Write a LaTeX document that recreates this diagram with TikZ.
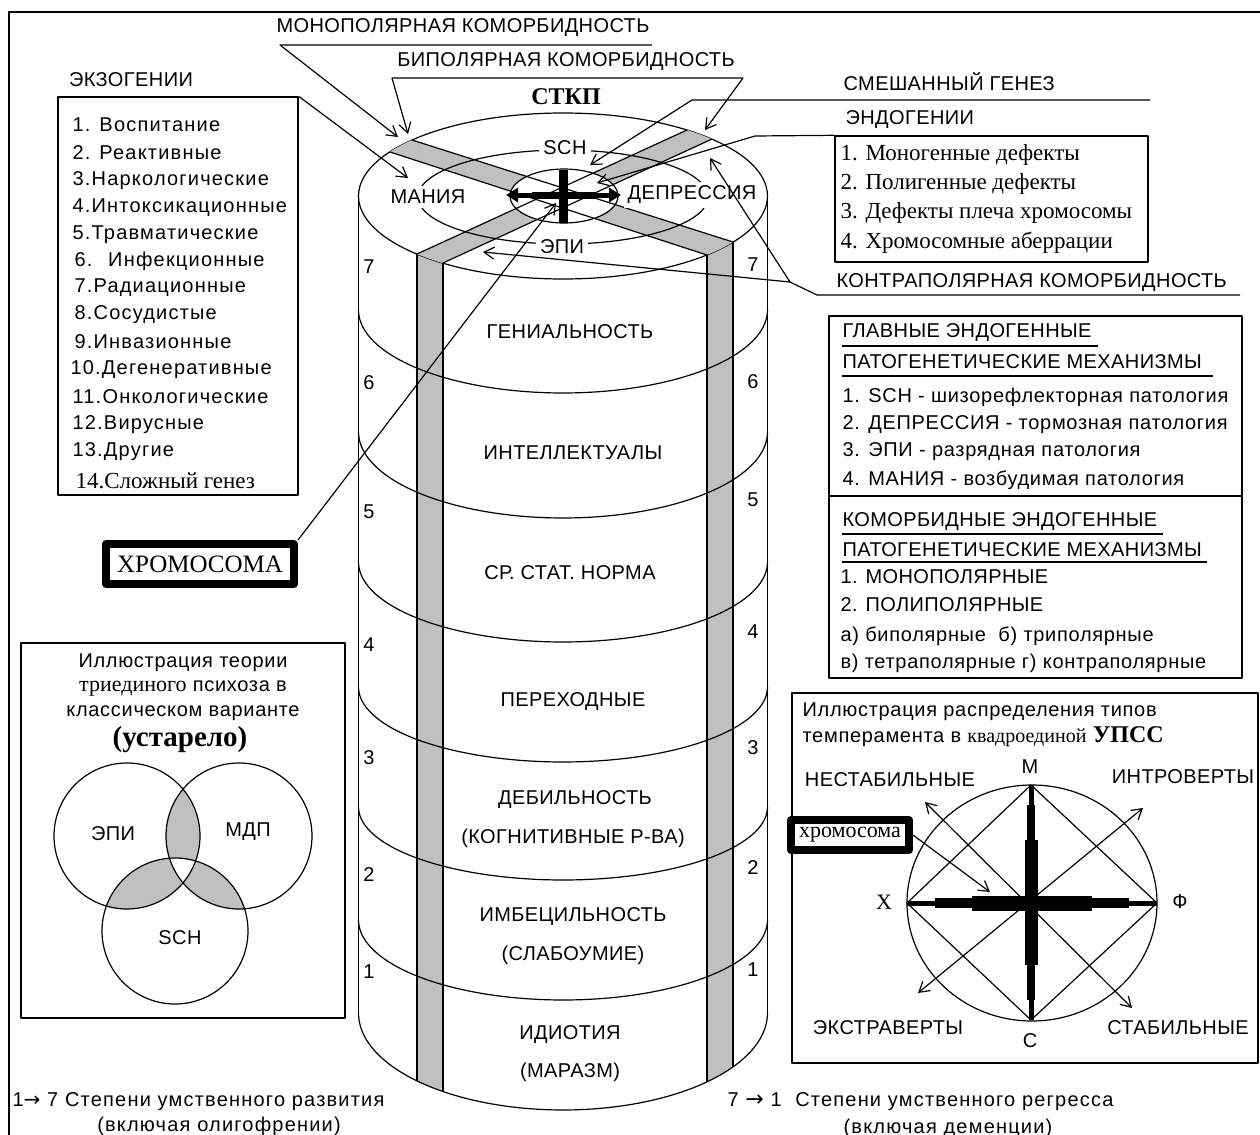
\documentclass[tikz,border=0pt]{standalone}
\usepackage{fontspec}
\setmainfont[LetterSpace=2]{Liberation Sans}
\newfontfamily\wsans[LetterSpace=6]{Liberation Sans}
\newfontfamily\msans[LetterSpace=3.5]{Liberation Sans}
\newfontfamily\serf{Liberation Serif}
\newfontfamily\djv{DejaVu Sans}
\usetikzlibrary{arrows.meta,calc}
\definecolor{bandgrey}{RGB}{192,192,192}
\tikzset{
  txt/.style={inner sep=1pt, font=\fontsize{10}{12}\selectfont},
  ltxt/.style={txt, anchor=west},
  wtxt/.style={inner sep=1pt, font=\fontsize{10}{12}\wsans},
  lwtxt/.style={wtxt, anchor=west},
  mtxt/.style={inner sep=1pt, font=\fontsize{10}{12}\msans},
  lmtxt/.style={mtxt, anchor=west},
  stxt/.style={inner sep=1pt, anchor=west, font=\fontsize{11.5}{13}\serf},
  arr/.style={-{Straight Barb[length=5pt,width=6pt]}},
  dbl/.style={{Straight Barb[length=5pt,width=6pt]}-{Straight Barb[length=5pt,width=6pt]}},
  box/.style={draw, line width=0.7pt, inner sep=0pt},
  thickbox/.style={draw, line width=4pt, inner sep=0pt},
  ringlbl/.style={txt, fill=white, inner sep=2pt},
}
\begin{document}
\begin{tikzpicture}[x=0.5pt,y=-0.5pt, line width=0.6pt, line join=round]
\useasboundingbox (0,0) rectangle (1260,1135);
% outer frame
\draw[line width=1pt] (9,1140) -- (9,12) -- (1265,12);

% ---------- cylinder ----------
\begin{scope}
\clip (358.5,196) -- plot[domain=180:0,samples=80,variable=\t] ({563+204.5*cos(\t)},{1013+97*sin(\t)})
      -- plot[domain=0:180,samples=80,variable=\t] ({563+204.5*cos(\t)},{196+83*sin(\t)}) -- cycle;
\fill[bandgrey] (417,100) rectangle (443,1150);
\fill[bandgrey] (707,100) rectangle (733,1150);
\draw (417,100) -- (417,1150) (443,100) -- (443,1150) (707,100) -- (707,1150) (733,100) -- (733,1150);
\end{scope}
\draw (358.5,196) -- (358.5,1013);
\draw (767.5,196) -- (767.5,1013);
\foreach \ys/\ry in {310/83, 432/86, 562/80, 687/75, 807/73, 920/80, 1013/97}
  {\draw plot[domain=180:0,samples=80,variable=\t] ({563+204.5*cos(\t)},{\ys+\ry*sin(\t)});}
\draw (563,196) ellipse [x radius=204.5, y radius=83];

% bands on top
\begin{scope}
\clip (563,196) ellipse [x radius=204.5, y radius=83];
\fill[bandgrey] (390,266.4) -- (714,117.6) -- (738.9,126.6) -- (416.1,275.4) -- cycle;
\fill[bandgrey] (738.7,265.3) -- (358.3,141.7) -- (379.9,129.8) -- (765.1,252.2) -- cycle;
\fill[white] (564,196) ellipse [x radius=54, y radius=27];
\draw (390,266.4) -- (714,117.6) (416.1,275.4) -- (738.9,126.6);
\draw (738.7,265.3) -- (358.3,141.7) (765.1,252.2) -- (379.9,129.8);
\end{scope}
\draw (563,197) ellipse [x radius=145, y radius=47];
\draw (564,196) ellipse [x radius=54, y radius=27];
\node[ringlbl] (sch) at (565,148) {SCH};
\node[ringlbl] (mania) at (428,197) {МАНИЯ};
\node[ringlbl] (depr) at (692,195) {ДЕПРЕССИЯ};
\node[ringlbl] (epi) at (562,247) {ЭПИ};
% cross
\draw[line width=4.5pt] (563,170) -- (563,223);
\draw[line width=2.5pt, {Triangle[length=6pt,width=7pt]}-{Triangle[length=6pt,width=7pt]}] (506,195) -- (621,195);
\draw[line width=3.5pt] (532,195) -- (596,195);

% layer labels
\node[txt] (l7) at (570,332) {ГЕНИАЛЬНОСТЬ};
\node[txt] (l6) at (573,453) {ИНТЕЛЛЕКТУАЛЫ};
\node[txt] (l5) at (570,573) {СР. СТАТ. НОРМА};
\node[txt] (l4) at (573,702) {ПЕРЕХОДНЫЕ};
\node[txt] (l3a) at (575,800) {ДЕБИЛЬНОСТЬ};
\node[txt] (l3b) at (573,838) {(КОГНИТИВНЫЕ Р-ВА)};
\node[txt] (l2a) at (573,917) {ИМБЕЦИЛЬНОСТЬ};
\node[txt] (l2b) at (573,955) {(СЛАБОУМИЕ)};
\node[txt] (l1a) at (570,1035) {ИДИОТИЯ};
\node[txt] (l1b) at (570,1072) {(МАРАЗМ)};
% numbers
\foreach \n/\yl/\yr in {7/267/265, 6/383/382, 5/512/500, 4/645/632, 3/758/748, 2/875/868, 1/972/970}
  {\node[txt] (nl\n) at (369,\yl) {\n};
   \node[txt] (nr\n) at (753,\yr) {\n};}

% ---------- top labels and leaders ----------
\node[font=\fontsize{12}{14}\selectfont\serf\bfseries, inner sep=1pt] (stkp) at (566,97) {СТКП};
\node[txt] (mono) at (463,28) {МОНОПОЛЯРНАЯ КОМОРБИДНОСТЬ};
\coordinate (monoL) at (280,45); \coordinate (monoR) at (652,45); \coordinate (monoT) at (398,137);
\draw[arr] (monoR) -- (monoL) -- (monoT);
\node[txt] (bi) at (566,62) {БИПОЛЯРНАЯ КОМОРБИДНОСТЬ};
\coordinate (biL) at (392,78); \coordinate (biR) at (743,78);
\coordinate (biTL) at (408,134); \coordinate (biTR) at (705,130);
\draw[arr] (biR) -- (biL) -- (biTL);
\draw[arr] (biR) -- (biTR);

\node[txt] (exoLbl) at (131,80) {ЭКЗОГЕНИИ};
\node[box, minimum width=120pt, minimum height=199pt] (exoBox) at (178,296) {};
\coordinate (exoT) at (408,178);
\draw[arr] (exoBox.north east) -- (exoT);
\node[lwtxt] (e1) at (70,125) {1. Воспитание};
\node[lwtxt] (e2) at (70,153) {2. Реактивные};
\node[lwtxt] (e3) at (70,181) {3.Наркологические};
\node[lwtxt] (e4) at (70,208) {4.Интоксикационные};
\node[lwtxt] (e5) at (70,235) {5.Травматические};
\node[lwtxt] (e6) at (72,261) {6. \ Инфекционные};
\node[lwtxt] (e7) at (72,288) {7.Радиационные};
\node[lwtxt] (e8) at (72,315) {8.Сосудистые};
\node[lwtxt] (e9) at (72,342) {9.Инвазионные};
\node[lwtxt] (e10) at (68,370) {10.Дегенеративные};
\node[lwtxt] (e11) at (70,397) {11.Онкологические};
\node[lwtxt] (e12) at (70,425) {12.Вирусные};
\node[lwtxt] (e13) at (70,452) {13.Другие};
\node[stxt] (e14) at (73,481) {14.Сложный генез};

\node[thickbox, minimum width=94pt, minimum height=20pt, font=\fontsize{12.5}{14}\selectfont\serf] (xrom) at (200,564) {ХРОМОСОМА};
\coordinate (xromT) at (556,203);
\draw[arr] (xrom.north east) -- (xromT);

\node[ltxt] (mix) at (841,82) {СМЕШАННЫЙ ГЕНЕЗ};
\coordinate (mixR) at (1150,100); \coordinate (mixL) at (692,100); \coordinate (mixT) at (590,165);
\draw[arr] (mixR) -- (mixL) -- (mixT);

\node[ltxt] (endoLbl) at (843,120) {ЭНДОГЕНИИ};
\node[box, minimum width=156.5pt, minimum height=63pt] (endoBox) at (991.5,199) {};
\coordinate (endoK) at (755,136); \coordinate (endoT) at (597,183);
\draw[arr] (endoBox.north west) -- (endoK) -- (endoT);
\node[stxt] (d1) at (838,155) {1. Моногенные дефекты};
\node[stxt] (d2) at (838,184) {2. Полигенные дефекты};
\node[stxt] (d3) at (838,213) {3. Дефекты плеча хромосомы};
\node[stxt] (d4) at (838,243) {4. Хромосомные аберрации};

\node[ltxt] (contra) at (834,283) {КОНТРАПОЛЯРНАЯ КОМОРБИДНОСТЬ};
\coordinate (contraR) at (1240,295); \coordinate (contraL) at (817,295); \coordinate (contraK) at (790,282);
\coordinate (contraT1) at (710,158); \coordinate (contraT2) at (483,252);
\draw (contraR) -- (contraL) -- (contraK);
\draw[arr] (contraK) -- (contraT1);
\draw[arr] (contraK) -- (contraT2);

% ---------- main mechanisms box ----------
\node[box, minimum width=206.5pt, minimum height=181pt] (mainBox) at (1035.5,497) {};
\draw (829,496) -- (1242,496);
\node[ltxt] (g1) at (840,333) {ГЛАВНЫЕ ЭНДОГЕННЫЕ};
\node[ltxt] (g2) at (840,362) {ПАТОГЕНЕТИЧЕСКИЕ МЕХАНИЗМЫ};
\draw (842,346) -- (1098,346);
\draw (842,376) -- (1213,376);
\node[lmtxt] (g3) at (840,397) {1. SCH - шизорефлекторная патология};
\node[lmtxt] (g4) at (840,425) {2. ДЕПРЕССИЯ - тормозная патология};
\node[lmtxt] (g5) at (840,452) {3. ЭПИ - разрядная патология};
\node[lmtxt] (g6) at (840,480) {4. МАНИЯ - возбудимая патология};
\node[ltxt] (k1) at (840,522) {КОМОРБИДНЫЕ ЭНДОГЕННЫЕ};
\node[ltxt] (k2) at (840,550) {ПАТОГЕНЕТИЧЕСКИЕ МЕХАНИЗМЫ};
\draw (842,534) -- (1163,534);
\draw (842,562) -- (1207,562);
\node[ltxt] (k3) at (838,577) {1. МОНОПОЛЯРНЫЕ};
\node[ltxt] (k4) at (838,605) {2. ПОЛИПОЛЯРНЫЕ};
\node[lmtxt] (k5) at (838,636) {а) биполярные \ б) триполярные};
\node[lmtxt] (k6) at (838,663) {в) тетраполярные г) контраполярные};

% ---------- temperament box ----------
\node[box, minimum width=233pt, minimum height=185pt] (tempBox) at (1025,878) {};
\node[lmtxt] (tt1) at (800,712) {Иллюстрация распределения типов};
\node[lmtxt] (tt2) at (800,737) {темперамента в {\serf квадроединой} {\serf\bfseries\fontsize{12}{14}\selectfont УПСС}};
\draw (1032,903) ellipse [x radius=125, y radius=118];
\coordinate (M) at (1031,785); \coordinate (C) at (1031,1020);
\coordinate (X) at (907,903); \coordinate (F) at (1157,903);
\draw (M) -- (F) -- (C) -- (X) -- cycle;
\coordinate (NW) at (925,802); \coordinate (SE) at (1132,1008);
\coordinate (SW) at (918,993); \coordinate (NE) at (1143,808);
\draw[dbl] (NW) -- (SE);
\draw[dbl] (SW) -- (NE);
\draw[line width=2.5pt] (M) -- (C);
\draw[line width=4pt] ($(M)+(0,20)$) -- ($(C)+(0,-20)$);
\draw[line width=6.5pt] ($(M)+(0,55)$) -- ($(C)+(0,-55)$);
\draw[line width=2.5pt] (X) -- (F);
\draw[line width=5pt] ($(X)+(28,0)$) -- ($(F)+(-28,0)$);
\draw[line width=7.5pt] ($(X)+(65,0)$) -- ($(F)+(-65,0)$);
\node[txt] (lM) at (1030,767) {М};
\node[txt] (lC) at (1030,1041) {С};
\node[txt, font=\fontsize{11}{13}\selectfont\serf] (lX) at (884,902) {Х};
\node[txt] (lF) at (1180,902) {Ф};
\node[txt] (nest) at (890,780) {НЕСТАБИЛЬНЫЕ};
\node[txt] (intro) at (1183,777) {ИНТРОВЕРТЫ};
\node[txt] (extra) at (888,1028) {ЭКСТРАВЕРТЫ};
\node[txt] (stab) at (1178,1028) {СТАБИЛЬНЫЕ};
\node[thickbox, minimum width=59pt, minimum height=15pt, font=\fontsize{11}{13}\selectfont\serf] (xrom2) at (850,835) {хромосома};
\coordinate (xrom2T) at (990,892);
\draw[arr] (xrom2.east) -- (xrom2T);

% ---------- Venn box ----------
\node[box, minimum width=162pt, minimum height=187.5pt] (vennBox) at (183,830.5) {};
\node[mtxt] (v1) at (183,663) {Иллюстрация теории};
\node[mtxt] (v2) at (183,688) {{\serf\fontsize{11}{13}\selectfont триединого} психоза в};
\node[mtxt] (v3) at (183,713) {классическом варианте};
\node[txt, font=\fontsize{14.5}{16}\selectfont\serf\bfseries] (v4) at (180,740) {(устарело)};
\begin{scope}
\clip (127,836) circle [radius=73];
\fill[bandgrey] (239,836) circle [radius=73];
\fill[bandgrey] (175,931) circle [radius=73];
\end{scope}
\begin{scope}
\clip (239,836) circle [radius=73];
\fill[bandgrey] (175,931) circle [radius=73];
\end{scope}
\begin{scope}
\clip (127,836) circle [radius=73];
\clip (239,836) circle [radius=73];
\fill[white] (175,931) circle [radius=73];
\end{scope}
\draw (127,836) circle [radius=73];
\draw (239,836) circle [radius=73];
\draw (175,931) circle [radius=73];
\node[txt] (vE) at (113,834) {ЭПИ};
\node[txt] (vM) at (248,832) {МДП};
\node[txt] (vS) at (180,938) {SCH};

% ---------- bottom texts ----------
\node[lwtxt] (b1) at (10,1102) {1{\djv\fontsize{10}{12}\selectfont →} 7 Степени умственного развития};
\node[wtxt] (b2) at (219,1126) {(включая олигофрении)};
\node[lwtxt] (b3) at (725,1102) {7 {\djv\fontsize{11}{12}\selectfont →} 1 \ Степени умственного регресса};
\node[wtxt] (b4) at (948,1128) {(включая деменции)};
\end{tikzpicture}
\end{document}
